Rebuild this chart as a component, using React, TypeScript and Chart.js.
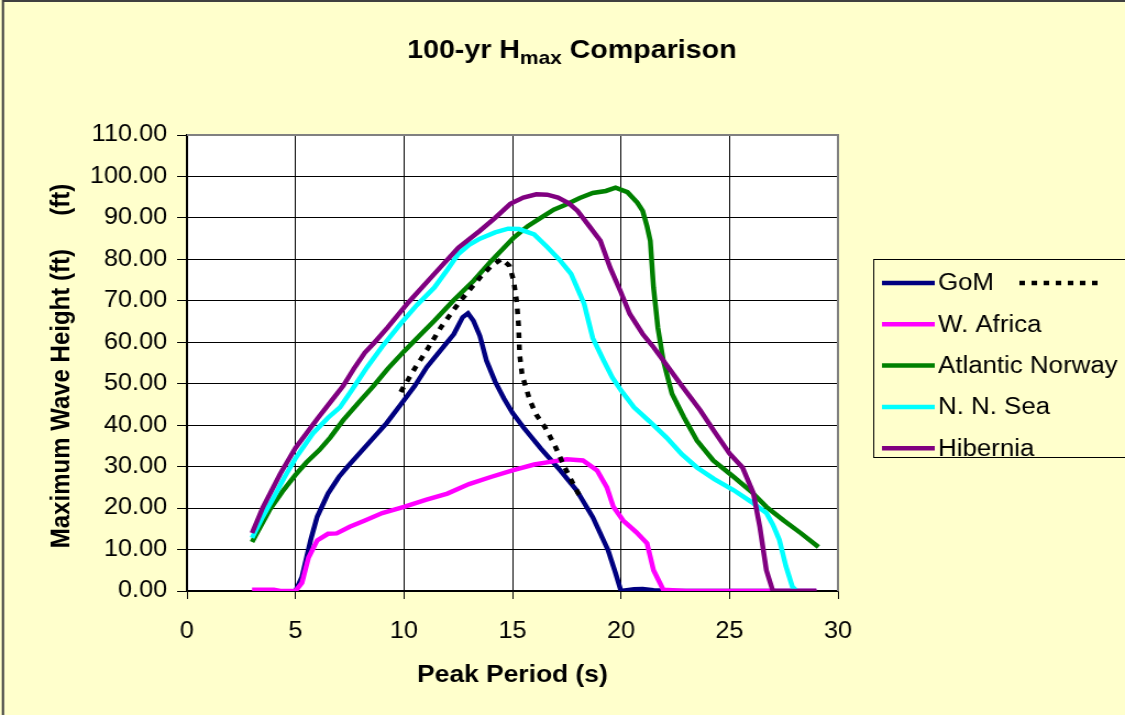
import { useEffect, useRef } from "react";
import { Chart, registerables } from "chart.js";

Chart.register(...registerables);

// Peak period (s) and 100-yr maximum wave height (ft) per region
const gomPeriod = [5, 5.3, 5.7, 6, 6.5, 7, 7.4, 8, 8.6, 9.2, 10, 10.5, 11.05, 11.6, 12.3, 12.7, 12.95, 13.2, 13.5, 13.8, 14.2, 14.6, 15, 15.5, 16.3, 17.2, 17.95, 18.7, 19.4, 19.75, 20, 20.6, 21, 21.5, 22.5, 29];
const gomHeight = [0, 3.4, 12.3, 17.9, 23.5, 27.5, 30, 33.5, 37, 40.5, 46, 49.5, 54, 57.5, 62, 66, 67, 65.2, 61.5, 55.6, 50.5, 46.5, 43, 39.5, 34.4, 29.1, 24.3, 17.8, 9.9, 4.3, 0, 0.4, 0.5, 0.2, 0, 0];

const gomDottedPeriod = [9.85, 10.5, 11.1, 11.7, 12.6, 13.5, 14.0, 14.5, 14.85, 15.05, 15.2, 15.28, 15.33, 15.45, 15.8, 16.1, 16.5, 16.95, 17.4, 17.9, 18.2];
const gomDottedHeight = [48, 53.7, 58.5, 63.6, 70, 75.6, 78.3, 80.1, 78.5, 75, 69.6, 64, 57, 52, 46, 42.5, 39.5, 35.1, 29.9, 24.8, 21.9];

const wAfricaPeriod = [3, 4, 4.3, 5, 5.3, 5.6, 6, 6.5, 6.9, 7.5, 8.2, 9, 10, 11, 12, 13, 14, 15, 16, 16.8, 17.5, 18.25, 18.9, 19.35, 19.65, 20.1, 20.7, 21.2, 21.5, 21.95, 23, 29];
const wAfricaHeight = [0.3, 0.3, 0, 0, 2, 8, 12.2, 13.8, 13.9, 15.5, 17, 18.8, 20.3, 22, 23.5, 25.8, 27.5, 29.1, 30.5, 31.2, 31.8, 31.5, 29.1, 25, 20.3, 17, 14.2, 11.5, 5, 0.3, 0, 0];

const norwayPeriod = [3, 3.8, 4.4, 5, 5.5, 6.1, 6.6, 7.2, 8, 8.6, 9.25, 10, 10.7, 11.4, 12.3, 13.2, 14, 15.05, 15.7, 16.3, 16.9, 17.5, 18.1, 18.7, 19.3, 19.75, 20.3, 20.75, 21, 21.2, 21.35, 21.5, 21.7, 21.95, 22.35, 22.9, 23.5, 24.25, 25.2, 26, 26.7, 27.5, 28.3, 29.1];
const norwayHeight = [11.8, 19.5, 24, 28, 31, 34, 37, 41.2, 46, 49.5, 53.6, 57.8, 61.5, 65.2, 70.2, 74.8, 79.5, 85.2, 88, 90, 92, 93.3, 94.8, 96, 96.5, 97.3, 96.2, 93.7, 91.7, 88, 84.5, 73.2, 63.5, 55.6, 47.6, 41.9, 36.3, 31.5, 27.5, 24, 20.3, 17, 13.9, 10.6];

const nnSeaPeriod = [3, 3.5, 4, 4.5, 5, 5.8, 6.5, 7.05, 7.6, 8.3, 9, 9.85, 10.6, 11.4, 12, 12.5, 13, 13.5, 14.2, 14.8, 15.3, 16, 16.6, 17.2, 17.7, 18.3, 18.7, 19.2, 19.6, 20, 20.6, 21.3, 22.1, 22.8, 23.5, 24.3, 25.2, 26, 26.7, 27, 27.3, 27.6, 27.9, 28.1];
const nnSeaHeight = [12.8, 18, 22.6, 27.5, 32, 38, 41.8, 44.3, 48.5, 54, 59, 64.5, 69, 73.2, 77.5, 81.3, 83.5, 85, 86.5, 87.4, 87.3, 86, 83, 79.7, 76.5, 69.3, 61, 55.6, 51.5, 48.4, 44.3, 41, 37, 33, 29.8, 27, 24.3, 21.5, 18.8, 16, 12.3, 6, 1, 0];

const hiberniaPeriod = [3, 3.5, 4.3, 5, 5.5, 6, 6.6, 7.2, 7.7, 8.2, 8.6, 9.25, 10.2, 11.4, 12.5, 13.5, 14.2, 14.9, 15.5, 16.1, 16.6, 17.1, 17.6, 18, 18.6, 19.05, 19.5, 20, 20.4, 21, 21.5, 21.95, 22.8, 23.65, 24.3, 25, 25.6, 26.1, 26.4, 26.7, 27, 28, 29];
const hiberniaHeight = [14, 20.2, 28.3, 34.5, 38, 41.5, 45.5, 49.5, 53.7, 57.5, 59.7, 63.6, 69.6, 76.5, 82.8, 86.9, 90, 93.4, 94.9, 95.7, 95.6, 94.9, 93.5, 91.7, 87.6, 84.5, 78, 72, 66.9, 62, 58.8, 55.6, 49.5, 43.6, 38.5, 33.2, 29.8, 23.6, 15.4, 5, 0, 0, 0];

// Axis ranges and tick steps
const xRange = [0, 30];
const xStep = 5;
const yRange = [0, 110];
const yStep = 10;

// Text
const titleParts = ["100-yr H", "max", " Comparison"];
const xTitle = "Peak Period (s)";
const yTitle = "Maximum Wave Height (ft)     (ft)";
const legendLabels = ["GoM", "W. Africa", "Atlantic Norway", "N. N. Sea", "Hibernia"];

const FONT = '"Liberation Sans", Arial, Helvetica, sans-serif';
const CANVAS_W = 1023;
const CANVAS_H = 715;
const BG = "#FFFFCC";

const pts = (xs: number[], ys: number[]) => xs.map((x, i) => ({ x, y: ys[i] }));

const lineStyle = (color: string, order: number) => ({
  showLine: true,
  borderColor: color,
  backgroundColor: color,
  borderWidth: 4.5,
  pointRadius: 0,
  pointHoverRadius: 0,
  tension: 0,
  fill: false,
  order,
});

const datasets: any[] = [
  { label: legendLabels[0], data: pts(gomPeriod, gomHeight), ...lineStyle("#000080", 5) },
  { label: "", data: pts(gomDottedPeriod, gomDottedHeight), ...lineStyle("#000000", 0), borderDash: [5.5, 6.5], borderCapStyle: "butt" },
  { label: legendLabels[1], data: pts(wAfricaPeriod, wAfricaHeight), ...lineStyle("#FF00FF", 4) },
  { label: legendLabels[2], data: pts(norwayPeriod, norwayHeight), ...lineStyle("#008000", 3) },
  { label: legendLabels[3], data: pts(nnSeaPeriod, nnSeaHeight), ...lineStyle("#00FFFF", 2) },
  { label: legendLabels[4], data: pts(hiberniaPeriod, hiberniaHeight), ...lineStyle("#800080", 1) },
];

const backgroundPlugin = {
  id: "panelBackground",
  beforeDraw(chart: any) {
    const { ctx, chartArea } = chart;
    ctx.save();
    ctx.fillStyle = BG;
    ctx.fillRect(0, 0, chart.width, chart.height);
    ctx.fillStyle = "#FFFFFF";
    ctx.fillRect(chartArea.left, chartArea.top, chartArea.right - chartArea.left, chartArea.bottom - chartArea.top);
    ctx.restore();
  },
};

const decorPlugin = {
  id: "decor",
  afterDraw(chart: any) {
    const { ctx, chartArea } = chart;
    ctx.save();

    // Title with subscript
    const mainFont = `bold 26px ${FONT}`;
    const subFont = `bold 19px ${FONT}`;
    ctx.fillStyle = "#000";
    ctx.textBaseline = "alphabetic";
    ctx.textAlign = "left";
    ctx.font = mainFont;
    const w1 = ctx.measureText(titleParts[0]).width;
    const w3 = ctx.measureText(titleParts[2]).width;
    ctx.font = subFont;
    const w2 = ctx.measureText(titleParts[1]).width;
    let tx = 520 - (w1 + w2 + w3) / 2;
    const ty = 58;
    ctx.font = mainFont;
    ctx.fillText(titleParts[0], tx, ty);
    tx += w1;
    ctx.font = subFont;
    ctx.fillText(titleParts[1], tx, ty + 6);
    tx += w2;
    ctx.font = mainFont;
    ctx.fillText(titleParts[2], tx, ty);

    // Axis titles
    ctx.font = `bold 24px ${FONT}`;
    ctx.textAlign = "center";
    ctx.textBaseline = "alphabetic";
    ctx.fillText(xTitle, (chartArea.left + chartArea.right) / 2, 682);
    ctx.save();
    ctx.translate(56, 366);
    ctx.rotate(-Math.PI / 2);
    ctx.textBaseline = "middle";
    ctx.fillText(yTitle, 0, 0);
    ctx.restore();

    // Gray top/right plot frame
    ctx.strokeStyle = "#808080";
    ctx.lineWidth = 2;
    ctx.beginPath();
    ctx.moveTo(chartArea.left, chartArea.top);
    ctx.lineTo(chartArea.right, chartArea.top);
    ctx.lineTo(chartArea.right, chartArea.bottom);
    ctx.stroke();

    // Legend
    const box = { left: 794.5, top: 259.5, right: 1030, bottom: 457.5 };
    ctx.fillStyle = BG;
    ctx.fillRect(box.left, box.top, box.right - box.left, box.bottom - box.top);
    ctx.strokeStyle = "#000";
    ctx.lineWidth = 1;
    ctx.strokeRect(box.left, box.top, box.right - box.left, box.bottom - box.top);

    const entries = [0, 2, 3, 4, 5];
    ctx.font = `23.5px ${FONT}`;
    ctx.textAlign = "left";
    ctx.textBaseline = "middle";
    entries.forEach((dsIndex, row) => {
      const ds = chart.data.datasets[dsIndex];
      const y = 283 + row * 41.3;
      ctx.strokeStyle = ds.borderColor;
      ctx.lineWidth = 4.5;
      ctx.setLineDash([]);
      ctx.beginPath();
      ctx.moveTo(802, y);
      ctx.lineTo(850, y);
      ctx.stroke();
      ctx.fillStyle = "#000";
      ctx.fillText(ds.label, 853, y + 1);
    });
    // dotted companion of the GoM row
    const dotted = chart.data.datasets[1];
    ctx.strokeStyle = dotted.borderColor;
    ctx.lineWidth = 4.5;
    ctx.lineCap = "butt";
    ctx.setLineDash([5, 6]);
    ctx.beginPath();
    ctx.moveTo(927, 283);
    ctx.lineTo(999, 283);
    ctx.stroke();
    ctx.setLineDash([]);

    // Outer frame
    ctx.strokeStyle = "#404040";
    ctx.lineWidth = 2;
    ctx.beginPath();
    ctx.moveTo(2.7, CANVAS_H + 5);
    ctx.lineTo(2.7, 1);
    ctx.lineTo(CANVAS_W + 5, 1);
    ctx.stroke();

    ctx.restore();
  },
};

export default function App() {
  const ref = useRef<HTMLCanvasElement>(null);

  useEffect(() => {
    document.body.style.margin = "0";
    const canvas = ref.current;
    if (!canvas) return;
    const chart = new Chart(canvas, {
      type: "scatter",
      data: { datasets },
      options: {
        responsive: false,
        devicePixelRatio: 1,
        animation: false,
        events: [],
        layout: { padding: { left: 0, right: CANVAS_W - 762, top: 135, bottom: 0 } },
        plugins: {
          legend: { display: false },
          title: { display: false },
          tooltip: { enabled: false },
        },
        scales: {
          x: {
            type: "linear",
            min: xRange[0],
            max: xRange[1],
            ticks: {
              stepSize: xStep,
              color: "#000",
              font: { family: FONT, size: 23 },
              padding: 19,
              maxRotation: 0,
            },
            grid: {
              color: (c: any) => (c.tick && c.tick.value === xRange[1] ? "#808080" : "#000"),
              lineWidth: 1,
              tickLength: 8,
              tickColor: "#000",
            },
            border: { color: "#000", width: 1.5 },
            afterFit: (s: any) => {
              s.height = CANVAS_H - 591;
            },
          },
          y: {
            type: "linear",
            min: yRange[0],
            max: yRange[1],
            ticks: {
              stepSize: yStep,
              color: "#000",
              font: { family: FONT, size: 23 },
              padding: 9,
              callback: (v: any) => Number(v).toFixed(2),
            },
            grid: {
              color: (c: any) => (c.tick && c.tick.value === yRange[1] ? "#808080" : "#000"),
              lineWidth: 1,
              tickLength: 9,
              tickColor: "#000",
            },
            border: { color: "#000", width: 1.5 },
            afterFit: (s: any) => {
              s.width = 170;
            },
          },
        },
      },
      plugins: [backgroundPlugin, decorPlugin],
    });
    canvas.style.width = "1125px";
    canvas.style.height = "715px";
    return () => chart.destroy();
  }, []);

  return (
    <canvas
      ref={ref}
      width={CANVAS_W}
      height={CANVAS_H}
      style={{ width: "1125px", height: "715px", display: "block" }}
    />
  );
}
